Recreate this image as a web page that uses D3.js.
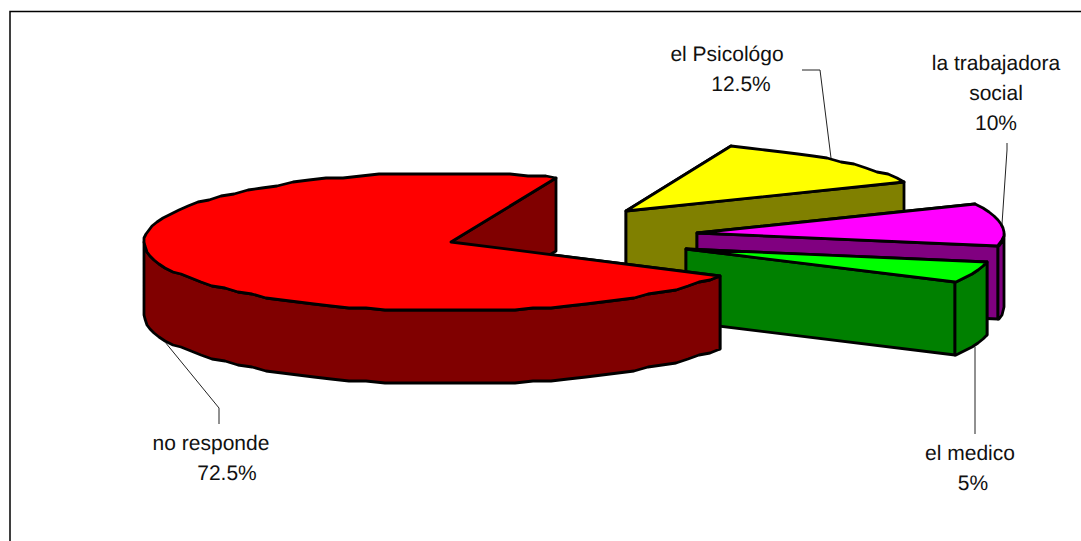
<!DOCTYPE html>
<html>
<head>
<meta charset="utf-8">
<script src="https://cdn.jsdelivr.net/npm/d3@7"></script>
<style>
    html, body { margin: 0; padding: 0; background: #fff; }
    text { font-family: "Liberation Sans", Arial, sans-serif; font-size: 21px; fill: #111; text-rendering: geometricPrecision; }
</style>
</head>
<body>
<svg id="chart" width="1081" height="541"></svg>
<script>
// data
var categories = ["el Psicológo", "la trabajadora social", "el medico", "no responde"];
var percents = [12.5, 10, 5, 72.5];
var topColors = ["#ffff00", "#ff00ff", "#00ff00", "#ff0000"];
var sideColors = ["#808000", "#800080", "#008000", "#800000"];

// layout of the pie
var width = 1081, height = 541;
var cx = 451, cy = 242;        // apex of the red slice
var rx = 307, ry = 69, depth = 73;
var firstAngle = 20;           // degrees clockwise from the top
var explode = [[175, -31], [246, -9], [235, 7], [0, 0]];
var labelLines = [["el Psicológo"], ["la trabajadora", "social"], ["el medico"], ["no responde"]];
var labelPos = [[727, 61, 741], [996, 70, 996], [970, 460, 973], [211, 450, 227]];
var leaders = [
    [[802, 70], [820, 70], [831, 158]],
    [[1007, 143], [1007, 150], [1002, 224]],
    [[975, 347], [975, 434]],
    [[165, 342], [219, 408], [219, 424]]
];

var svg = d3.select("#chart");

// chart frame, open on the right and at the bottom
svg.append("path")
    .attr("d", d3.line()([[10, height], [10, 11.5], [width, 11.5]]))
    .attr("fill", "none")
    .attr("stroke", "#000")
    .attr("stroke-width", 1.5);

var x = d3.scaleLinear().domain([-1, 1]).range([-rx, rx]);
var y = d3.scaleLinear().domain([-1, 1]).range([ry, -ry]);

var pie = d3.pie().sort(null)
    .startAngle(firstAngle * Math.PI / 180)
    .endAngle((firstAngle + 360) * Math.PI / 180);

var slices = pie(percents);

var line = d3.line();

// point on the rim, angle in radians clockwise from the top
// snapped to a small grid, the original outline is stepped like this
function rim(a, ox, oy, drop) {
    return [Math.round(cx + ox + x(Math.sin(a))), Math.round((cy + oy + y(Math.cos(a))) / 2) * 2 + drop];
}

function rimAngles(a0, a1) {
    var step = 3.5 * Math.PI / 180;
    var list = d3.range(a0, a1, step);
    list.push(a1);
    return list;
}

function drawShape(pts, fill) {
    svg.append("path")
        .attr("d", line(pts) + "Z")
        .attr("fill", fill)
        .attr("stroke", "#000")
        .attr("stroke-width", 2.8)
        .attr("stroke-linejoin", "round");
}

slices.forEach(function (s, i) {
    var ox = explode[i][0], oy = explode[i][1];
    var apex = [cx + ox, cy + oy];
    var apexLow = [cx + ox, cy + oy + depth];

    // straight cut walls
    [s.startAngle, s.endAngle].forEach(function (a) {
        drawShape([apex, rim(a, ox, oy, 0), rim(a, ox, oy, depth), apexLow], sideColors[i]);
    });

    // outer wall, only the part facing the viewer
    var a0 = Math.max(s.startAngle, Math.PI / 2);
    var a1 = Math.min(s.endAngle, Math.PI * 1.5);
    if (a1 > a0) {
        var angles = rimAngles(a0, a1);
        var upper = angles.map(function (a) { return rim(a, ox, oy, 0); });
        var lower = angles.map(function (a) { return rim(a, ox, oy, depth); }).reverse();
        drawShape(upper.concat(lower), sideColors[i]);
    }

    // top face
    var top = rimAngles(s.startAngle, s.endAngle).map(function (a) { return rim(a, ox, oy, 0); });
    drawShape([apex].concat(top), topColors[i]);
});

// leader lines
leaders.forEach(function (pts) {
    svg.append("path")
        .attr("d", line(pts))
        .attr("fill", "none")
        .attr("stroke", "#222")
        .attr("stroke-width", 1);
});

// labels
categories.forEach(function (c, i) {
    var lines = labelLines[i];
    var p = labelPos[i];
    var t = svg.append("text").attr("text-anchor", "middle");
    lines.forEach(function (l, k) {
        t.append("tspan").attr("x", p[0]).attr("y", p[1] + k * 30).text(l);
    });
    t.append("tspan").attr("x", p[2]).attr("y", p[1] + lines.length * 30).text(percents[i] + "%");
});
</script>
</body>
</html>
